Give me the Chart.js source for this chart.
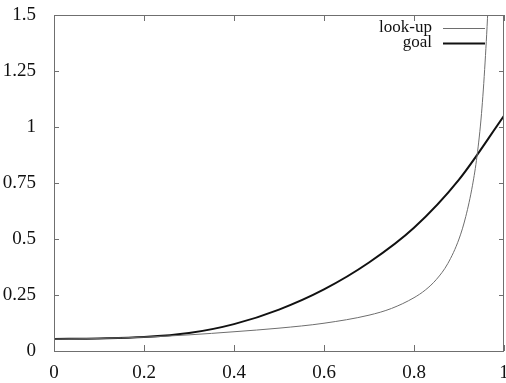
<!DOCTYPE html>
<html>
<head>
<meta charset="utf-8">
<script src="https://cdn.jsdelivr.net/npm/chart.js@4.4.1/dist/chart.umd.min.js"></script>
<style>
  html, body { margin: 0; padding: 0; background: #fff; }
  #wrap { width: 506px; height: 383px; }
</style>
</head>
<body>
<div id="wrap"><canvas id="chart"></canvas></div>
<script>
// Chart data
const lookupX = [0, 0.1, 0.2, 0.3, 0.4, 0.5, 0.6, 0.7, 0.75, 0.8, 0.825, 0.85, 0.875, 0.9, 0.915, 0.93, 0.94, 0.95, 0.958, 0.965, 0.975];
const lookupY = [0.053, 0.056, 0.062, 0.072, 0.086, 0.102, 0.124, 0.16, 0.19, 0.238, 0.272, 0.32, 0.39, 0.5, 0.6, 0.74, 0.87, 1.06, 1.29, 1.56, 2.1];

const goalX = [0, 0.1, 0.2, 0.3, 0.4, 0.5, 0.6, 0.7, 0.8, 0.9, 1.0];
const goalY = [0.054, 0.056, 0.062, 0.08, 0.12, 0.185, 0.275, 0.395, 0.55, 0.765, 1.05];

const xTickValues = [0, 0.2, 0.4, 0.6, 0.8, 1];
const xTickLabels = ['0', '0.2', '0.4', '0.6', '0.8', '1'];
const yTickValues = [0, 0.25, 0.5, 0.75, 1, 1.25, 1.5];
const yTickLabels = ['0', '0.25', '0.5', '0.75', '1', '1.25', '1.5'];

const seriesNames = ['look-up', 'goal'];

const FONT = '"Liberation Serif", "DejaVu Serif", serif';
const frameColor = '#6f6f6f';

function toPoints(xs, ys) {
  return xs.map((x, i) => ({ x: x, y: ys[i] }));
}

// gnuplot-like frame with inward ticks on all four sides
const framePlugin = {
  id: 'frame',
  afterDraw(chart) {
    const { ctx, chartArea: a, scales } = chart;
    ctx.save();
    ctx.strokeStyle = frameColor;
    ctx.lineWidth = 1;
    ctx.strokeRect(Math.round(a.left) + 0.5, Math.round(a.top) + 0.5,
      Math.round(a.right - a.left) - 1, Math.round(a.bottom - a.top));
    ctx.beginPath();
    xTickValues.forEach(v => {
      const px = Math.round(scales.x.getPixelForValue(v)) + 0.5;
      ctx.moveTo(px, a.bottom); ctx.lineTo(px, a.bottom - 6);
      ctx.moveTo(px, a.top); ctx.lineTo(px, a.top + 6);
    });
    yTickValues.forEach(v => {
      const py = Math.round(scales.y.getPixelForValue(v)) + 0.5;
      ctx.moveTo(a.left, py); ctx.lineTo(a.left + 5, py);
      ctx.moveTo(a.right, py); ctx.lineTo(a.right - 5, py);
    });
    ctx.stroke();
    ctx.restore();
  }
};

// legend in the top right corner: text right-aligned, sample line after it
const keyPlugin = {
  id: 'key',
  afterDraw(chart) {
    const { ctx } = chart;
    ctx.save();
    ctx.font = '17px ' + FONT;
    ctx.textAlign = 'right';
    ctx.textBaseline = 'middle';
    chart.data.datasets.forEach((ds, i) => {
      const y = 28 + i * 15;
      ctx.fillStyle = '#111';
      ctx.fillText(ds.label, 432, y);
      ctx.strokeStyle = ds.borderColor;
      ctx.lineWidth = ds.borderWidth;
      ctx.beginPath();
      ctx.moveTo(443, y + 0.5);
      ctx.lineTo(485, y + 0.5);
      ctx.stroke();
    });
    ctx.restore();
  }
};

const ctx = document.getElementById('chart').getContext('2d');
new Chart(ctx, {
  type: 'scatter',
  data: {
    datasets: [
      {
        label: seriesNames[0],
        data: toPoints(lookupX, lookupY),
        showLine: true,
        borderColor: '#6e6e6e',
        borderWidth: 1,
        pointRadius: 0,
        cubicInterpolationMode: 'monotone'
      },
      {
        label: seriesNames[1],
        data: toPoints(goalX, goalY),
        showLine: true,
        borderColor: '#111111',
        borderWidth: 2,
        pointRadius: 0,
        cubicInterpolationMode: 'monotone'
      }
    ]
  },
  options: {
    responsive: true,
    maintainAspectRatio: false,
    animation: false,
    layout: { padding: { top: 15, right: 2, left: 0, bottom: 0 } },
    plugins: {
      legend: { display: false },
      tooltip: { enabled: false }
    },
    scales: {
      x: {
        type: 'linear',
        min: 0,
        max: 1,
        grid: { display: false },
        border: { display: false },
        afterBuildTicks: (scale) => { scale.ticks = xTickValues.map(v => ({ value: v })); },
        afterFit: (scale) => { scale.paddingLeft = 0; scale.paddingRight = 0; scale.height = 32; },
        ticks: {
          color: '#111',
          font: { family: FONT, size: 19 },
          padding: 3,
          maxRotation: 0,
          callback: (v, i) => xTickLabels[i]
        }
      },
      y: {
        type: 'linear',
        min: 0,
        max: 1.5,
        grid: { display: false },
        border: { display: false },
        afterBuildTicks: (scale) => { scale.ticks = yTickValues.map(v => ({ value: v })); },
        afterFit: (scale) => { scale.paddingTop = 0; scale.paddingBottom = 0; scale.width = 54; },
        ticks: {
          color: '#111',
          font: { family: FONT, size: 19 },
          padding: 10,
          callback: (v, i) => yTickLabels[i]
        }
      }
    }
  },
  plugins: [framePlugin, keyPlugin]
});
</script>
</body>
</html>
